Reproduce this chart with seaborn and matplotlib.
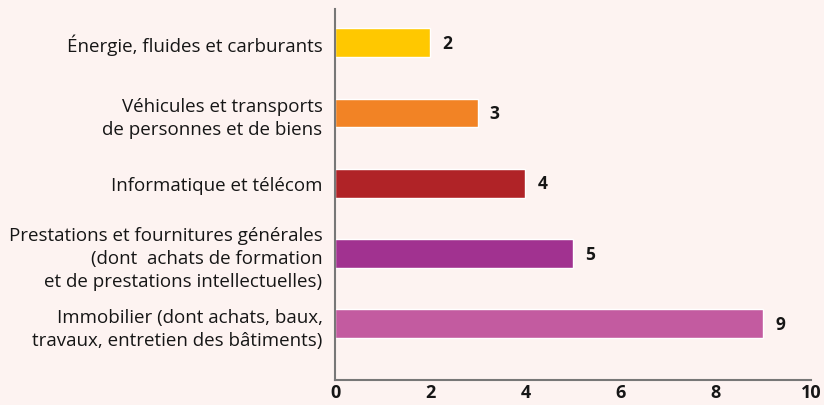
import pandas as pd
import seaborn as sns
import matplotlib.pyplot as plt

categories = [
    "Énergie, fluides et carburants",
    "Véhicules et transports\nde personnes et de biens",
    "Informatique et télécom",
    "Prestations et fournitures générales\n(dont  achats de formation\net de prestations intellectuelles)",
    "Immobilier (dont achats, baux,\ntravaux, entretien des bâtiments)",
]
values = [2, 3, 4, 5, 9]
colors = ["#FFC800", "#F28325", "#B02327", "#A13290", "#C35BA0"]
x_ticks = [0, 2, 4, 6, 8, 10]

bg = "#FDF3F1"

sns.set_style("white")
plt.rcParams['font.family'] = ['Open Sans', 'DejaVu Sans']

df = pd.DataFrame({"cat": categories, "val": values})

fig = plt.figure(figsize=(8.24, 4.06), dpi=100, facecolor=bg)
ax = fig.add_axes([0.4066, 0.0616, 0.5776, 0.9138])
ax.set_facecolor(bg)

sns.barplot(data=df, x="val", y="cat", hue="cat", palette=colors,
            orient="h", width=0.41, legend=False, ax=ax, saturation=1)

for i, v in enumerate(values):
    ax.text(v + 0.25, i, str(v), va="center", ha="left",
            fontsize=12.5, fontweight="bold", color="#161616")

ax.set_xlim(0, 10)
ax.set_ylim(4.8, -0.48)
ax.set_xticks(x_ticks)
ax.set_xticklabels([str(t) for t in x_ticks], fontsize=13, fontweight="bold", color="#161616")
ax.tick_params(axis="x", direction="in", length=8, width=1.5, color="#666666", pad=2)
ax.tick_params(axis="y", length=0, pad=9, labelsize=13.5, labelcolor="#161616")
for lbl in ax.get_yticklabels():
    lbl.set_linespacing(1.35)
ax.set_xlabel("")
ax.set_ylabel("")

for side in ["top", "right"]:
    ax.spines[side].set_visible(False)
for side in ["left", "bottom"]:
    ax.spines[side].set_color("#777777")
    ax.spines[side].set_linewidth(1.5)

fig.savefig("out.png", dpi=100, facecolor=bg)
